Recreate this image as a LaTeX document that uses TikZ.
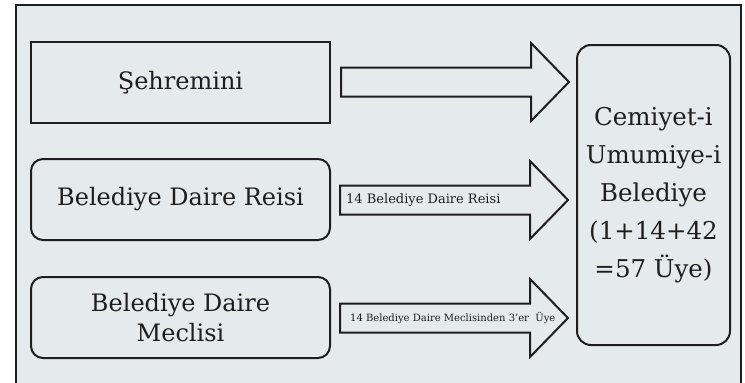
\documentclass[tikz,border=0pt]{standalone}
\usepackage{fontspec}
\setmainfont{DejaVu Serif}
\definecolor{bg}{HTML}{E5EAEC}
\definecolor{ink}{HTML}{1E1E1E}
\definecolor{txt}{HTML}{1E1E1E}
\begin{document}
\begin{tikzpicture}[x=1pt,y=-1pt,
  box/.style={draw=ink, line width=2pt, fill=bg, text=txt, inner sep=0pt,
    font=\fontsize{24}{30}\selectfont, align=center,
    minimum width=299pt, minimum height=81pt},
  rbox/.style={box, rounded corners=12pt},
  barrow/.style={draw=ink, line width=2pt, fill=bg, line join=miter},
  alabel/.style={text=txt, inner sep=0pt, anchor=west},
  pics/blockarr/.style={code={\draw[barrow] (0,-14.5) -- (190,-14.5) -- (190,-39) -- (228,0) -- (190,39) -- (190,14.5) -- (0,14.5) -- cycle;}}]
\useasboundingbox (0,0) rectangle (745,383);
\fill[white] (0,0) rectangle (745,383);
\fill[bg] (16,5) rectangle (741,383);
\draw[ink, line width=2pt] (16,390) -- (16,5) -- (741,5) -- (741,390);

\node[box] (shr) at (180.5,82.5) {Şehremini};
\node[rbox] (bdr) at (180.5,199.5) {Belediye Daire Reisi};
\node[rbox] (bdm) at (180.5,317.5) {Belediye Daire\\Meclisi};
\node[box, rounded corners=14pt, minimum width=153pt, minimum height=300pt,
  font=\fontsize{24.5}{38}\selectfont] (cub) at (653.5,195)
  {Cemiyet-i\\Umumiye-i\\Belediye\\(1+14+42\\=57 Üye)};

\coordinate (a1t) at ([xshift=10pt,yshift=0.5pt]shr.east);
\coordinate (a2t) at ([xshift=9pt,yshift=-0.5pt]bdr.east);
\coordinate (a3t) at ([xshift=9pt,yshift=-0.5pt]bdm.east);
\pic at (a1t) {blockarr};
\pic at (a2t) {blockarr};
\pic at (a3t) {blockarr};

\node[alabel, font=\fontsize{13}{15}\selectfont] (l2) at ([xshift=6pt]a2t) {14 Belediye Daire Reisi};
\node[alabel, font=\fontsize{10}{12}\selectfont] (l3) at ([xshift=10pt]a3t) {14 Belediye Daire Meclisinden 3’er~~Üye};
\end{tikzpicture}
\end{document}
